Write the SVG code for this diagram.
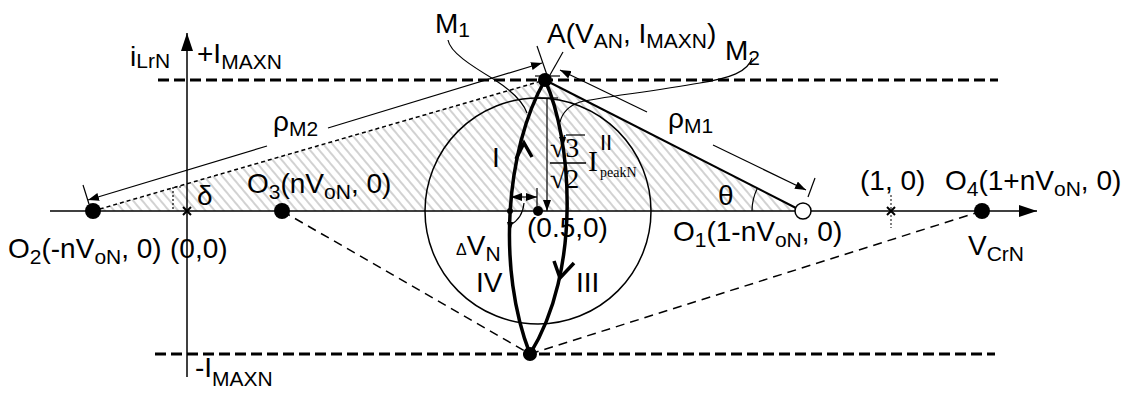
<svg xmlns="http://www.w3.org/2000/svg" width="1130" height="393" viewBox="0 0 1130 393">
<style>
.t{font-family:"Liberation Sans",Arial,sans-serif;font-size:28px;fill:#000}
.sb{font-size:21px}
.sr{font-family:"Liberation Serif","Times New Roman",serif;fill:#000}
.ln{stroke:#000;fill:none}
.dot{fill:#000}
</style>
<defs>
<marker id="ax" markerUnits="userSpaceOnUse" markerWidth="20" markerHeight="12" refX="18" refY="6" orient="auto"><path d="M0,0 L18,6 L0,12 Z" fill="#000"/></marker>
<marker id="da" markerUnits="userSpaceOnUse" markerWidth="12" markerHeight="8" refX="11" refY="4" orient="auto-start-reverse"><path d="M0,0 L11,4 L0,8 Z" fill="#000"/></marker>
<pattern id="hatch" patternUnits="userSpaceOnUse" width="7" height="7" patternTransform="rotate(-40)"><line x1="1" y1="0" x2="1" y2="7" stroke="#666" stroke-width="0.6"/></pattern>
</defs>
<rect width="1130" height="393" fill="#fff"/>
<polygon points="93,211 545,80 803,211" fill="url(#hatch)"/>
<g id="axes">
<line class="ln" x1="187" y1="377" x2="187" y2="33" stroke-width="1.5" marker-end="url(#ax)"/>
<line class="ln" x1="50" y1="211" x2="1037" y2="211" stroke-width="1.5" marker-end="url(#ax)"/>
<text class="t" x="130" y="66">i<tspan class="sb" dy="2">LrN</tspan></text>
<text class="t" x="197" y="63">+I<tspan class="sb" dy="6">MAXN</tspan></text>
<text class="t" x="195" y="377">-I<tspan class="sb" dy="9">MAXN</tspan></text>
<text class="t" x="968" y="255">V<tspan class="sb" dy="6">CrN</tspan></text>
</g>
<g id="connectors">
<line class="ln" x1="158" y1="80" x2="998" y2="80" stroke-width="3" stroke-dasharray="11 5"/>
<line class="ln" x1="155" y1="354" x2="995" y2="354" stroke-width="3" stroke-dasharray="11 5"/>
<line class="ln" x1="93" y1="211" x2="545" y2="80" stroke-width="1.5" stroke-dasharray="4 3"/>
<line class="ln" x1="282" y1="211" x2="530" y2="354" stroke-width="1.5" stroke-dasharray="9 6"/>
<line class="ln" x1="530" y1="354" x2="982" y2="211" stroke-width="1.5" stroke-dasharray="9 6"/>
<line class="ln" x1="545" y1="80" x2="796" y2="208" stroke-width="2"/>
<circle class="ln" cx="538" cy="211" r="113" stroke-width="1.5"/>
<path class="ln" d="M545,80 C505,150 497,270 530,354" stroke-width="3.5"/>
<path class="ln" d="M545,80 C572,140 582,270 530,354" stroke-width="3.5"/>
<polyline class="ln" points="516,159 524,143 532,157" stroke-width="3.5"/>
<polyline class="ln" points="554,261 560,278 574,263" stroke-width="3.5"/>
<polygon points="507,222 513,222 510,232" fill="#000"/>
<polygon points="559,137 566,137 563,147" fill="#000"/>
<line class="ln" x1="267" y1="146" x2="88" y2="200" stroke-width="1.2" marker-end="url(#da)"/>
<line class="ln" x1="328" y1="128" x2="542" y2="63" stroke-width="1.2" marker-end="url(#da)"/>
<line class="ln" x1="83" y1="185" x2="89" y2="204" stroke-width="1.2"/>
<line class="ln" x1="537" y1="46" x2="548" y2="78" stroke-width="1.2"/>
<line class="ln" x1="647" y1="112" x2="560" y2="70" stroke-width="1.2" marker-end="url(#da)"/>
<line class="ln" x1="713" y1="145" x2="806" y2="190" stroke-width="1.2" marker-end="url(#da)"/>
<line class="ln" x1="815" y1="178" x2="808" y2="197" stroke-width="1.2"/>
<line class="ln" x1="563" y1="52" x2="546" y2="82" stroke-width="1.2"/>
<line class="ln" x1="535" y1="76" x2="560" y2="76" stroke-width="1.2"/>
<line class="ln" x1="535" y1="98" x2="558" y2="98" stroke-width="1.2"/>
<line class="ln" x1="547" y1="98" x2="547" y2="211" stroke-width="1.2" marker-end="url(#da)"/>
<line class="ln" x1="511" y1="197" x2="537" y2="197" stroke-width="1.2" marker-start="url(#da)" marker-end="url(#da)"/>
<line class="ln" x1="537" y1="188" x2="537" y2="206" stroke-width="1.2"/>
<path class="ln" d="M524,203 C523,214 518,221 510,225" stroke-width="1.2"/>
<path class="ln" d="M752,211 A51,51 0 0 1 757.5,188" stroke-width="1.2"/>
<path class="ln" d="M173,209 V187 H183" stroke-width="1.2" stroke-dasharray="2 2"/>
<path class="ln" d="M448,40 C450,52 470,65 495,80 C512,91 523,102 527,113" stroke-width="1.2"/>
<path class="ln" d="M752,58 C748,72 730,78 700,83 C650,92 600,97 580,102 C568,106 562,114 560,122" stroke-width="1.2"/>
<line class="ln" x1="891" y1="195" x2="891" y2="228" stroke-width="1" stroke-dasharray="2 2"/>
</g>
<g id="O2"><circle class="dot" cx="93" cy="211" r="8"/><text class="t" x="8" y="258">O<tspan class="sb" dy="6">2</tspan><tspan dy="-6">(-nV</tspan><tspan class="sb" dy="6">oN</tspan><tspan dy="-6">, 0)</tspan></text></g>
<g id="origin"><path class="ln" d="M183,207 L191,215 M191,207 L183,215" stroke-width="2"/><text class="t" x="170" y="258">(0,0)</text></g>
<g id="O3"><circle class="dot" cx="282" cy="211" r="8"/><text class="t" x="247" y="193">O<tspan class="sb" dy="6">3</tspan><tspan dy="-6">(nV</tspan><tspan class="sb" dy="6">oN</tspan><tspan dy="-6">, 0)</tspan></text></g>
<g id="delta"><text class="t" x="197" y="205">δ</text></g>
<g id="rhoM2"><text class="t" x="273" y="131">ρ<tspan class="sb" dy="5">M2</tspan></text></g>
<g id="rhoM1"><text class="t" x="668" y="128">ρ<tspan class="sb" dy="5">M1</tspan></text></g>
<g id="theta"><text class="t" x="718" y="205">θ</text></g>
<g id="M1"><text class="t" x="435" y="33">M<tspan class="sb" dy="4">1</tspan></text></g>
<g id="M2"><text class="t" x="725" y="60">M<tspan class="sb" dy="5">2</tspan></text></g>
<g id="A"><circle class="dot" cx="545" cy="80" r="7"/><text class="t" x="547" y="43">A(V<tspan class="sb" dy="5">AN</tspan><tspan dy="-5">, I</tspan><tspan class="sb" dy="5">MAXN</tspan><tspan dy="-5">)</tspan></text></g>
<g id="B"><circle class="dot" cx="530" cy="354" r="7"/></g>
<g id="center"><circle class="dot" cx="538" cy="211" r="5"/><circle class="dot" cx="510" cy="211" r="3"/><text class="t" x="527" y="237">(0.5,0)</text></g>
<g id="O1"><circle cx="803" cy="211" r="8" fill="#fff" stroke="#000" stroke-width="1.5"/><text class="t" x="673" y="241">O<tspan class="sb" dy="6">1</tspan><tspan dy="-6">(1-nV</tspan><tspan class="sb" dy="6">oN</tspan><tspan dy="-6">, 0)</tspan></text></g>
<g id="one"><path class="ln" d="M887,207 L895,215 M895,207 L887,215" stroke-width="2"/><text class="t" x="860" y="190">(1, 0)</text></g>
<g id="O4"><circle class="dot" cx="982" cy="211" r="8"/><text class="t" x="945" y="190">O<tspan class="sb" dy="6">4</tspan><tspan dy="-6">(1+nV</tspan><tspan class="sb" dy="6">oN</tspan><tspan dy="-6">, 0)</tspan></text></g>
<g id="labels">
<text class="t" x="492" y="167">I</text>
<text class="t" x="476" y="292">IV</text>
<text class="t" x="576" y="292">III</text>
<text class="t" x="456" y="255"><tspan font-size="16">Δ</tspan>V<tspan class="sb" dy="6">N</tspan></text>
<text class="sr" x="550" y="157" font-size="28">√3</text>
<line class="ln" x1="566" y1="135" x2="585" y2="135" stroke-width="1.2"/>
<line class="ln" x1="550" y1="163" x2="586" y2="163" stroke-width="1.5"/>
<text class="sr" x="550" y="188" font-size="28">√2</text>
<text class="sr" x="588" y="171" font-size="30">I</text>
<text class="t" x="600" y="150" style="font-size:22px">II</text>
<text class="sr" x="600" y="177" font-size="14">peakN</text>
</g>
</svg>
